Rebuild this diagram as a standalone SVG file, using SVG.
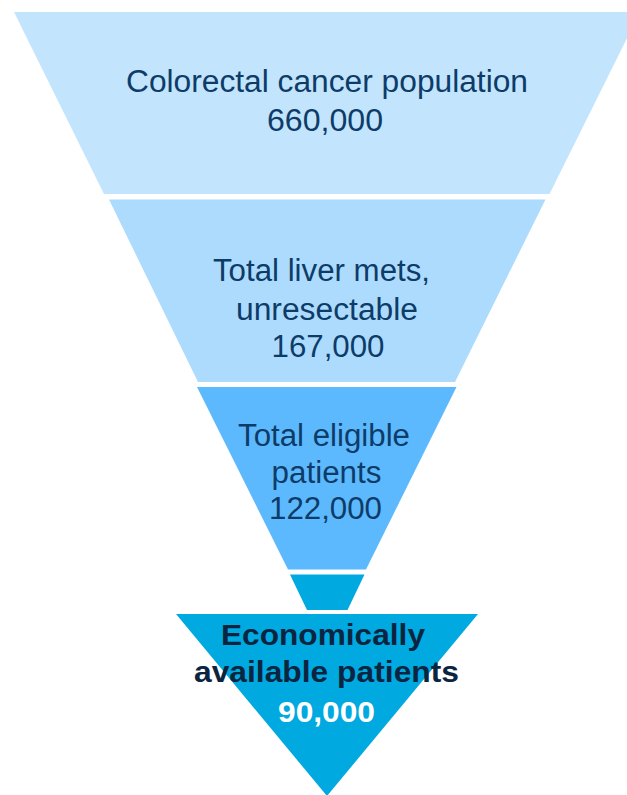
<svg xmlns="http://www.w3.org/2000/svg" width="627" height="795" viewBox="0 0 627 795">
  <style>
    .lbl { font-family: "Liberation Sans", Arial, sans-serif; font-size: 31px; fill: #0E3C69; text-anchor: middle; }
    .bold { font-family: "Liberation Sans", Arial, sans-serif; font-size: 29.5px; font-weight: bold; fill: #0B2541; text-anchor: middle; }
    .white { fill: #FFFFFF; }
  </style>
  <rect width="627" height="795" fill="#FFFFFF"/>

  <!-- Funnel stage 1 -->
  <g id="stage-colorectal">
    <polygon points="14,12 640,12 549.5,194 104,194" fill="#C2E4FD"/>
    <text class="lbl" x="327" y="92" textLength="402" lengthAdjust="spacingAndGlyphs">Colorectal cancer population</text>
    <text class="lbl" x="325" y="131" textLength="116" lengthAdjust="spacingAndGlyphs">660,000</text>
  </g>

  <!-- Funnel stage 2 -->
  <g id="stage-liver-mets">
    <polygon points="109,199.5 545.5,199.5 455,382 198,382" fill="#ADDBFE"/>
    <text class="lbl" x="321.5" y="281" textLength="217" lengthAdjust="spacingAndGlyphs">Total liver mets,</text>
    <text class="lbl" x="327" y="320" textLength="182" lengthAdjust="spacingAndGlyphs">unresectable</text>
    <text class="lbl" x="328" y="357" textLength="113" lengthAdjust="spacingAndGlyphs">167,000</text>
  </g>

  <!-- Funnel stage 3 -->
  <g id="stage-eligible">
    <polygon points="197,387 456.5,387 366,569.5 288,569.5" fill="#5DB9FE"/>
    <text class="lbl" x="324" y="446" textLength="172" lengthAdjust="spacingAndGlyphs">Total eligible</text>
    <text class="lbl" x="326.5" y="483" textLength="110" lengthAdjust="spacingAndGlyphs">patients</text>
    <text class="lbl" x="325.5" y="519" textLength="113" lengthAdjust="spacingAndGlyphs">122,000</text>
  </g>

  <!-- Funnel stage 4 (narrow band) -->
  <g id="stage-narrow">
    <polygon points="290,574.5 364.5,574.5 347.5,610 307,610" fill="#00A9DF"/>
  </g>

  <!-- Funnel tip -->
  <g id="stage-economic">
    <polygon points="176,614 478,614 327,796" fill="#00A9DF"/>
    <text class="bold" x="323" y="645" textLength="204" lengthAdjust="spacingAndGlyphs">Economically</text>
    <text class="bold" x="326.5" y="682" textLength="265" lengthAdjust="spacingAndGlyphs">available patients</text>
    <text class="bold white" x="326.5" y="722" textLength="97" lengthAdjust="spacingAndGlyphs">90,000</text>
  </g>
</svg>
